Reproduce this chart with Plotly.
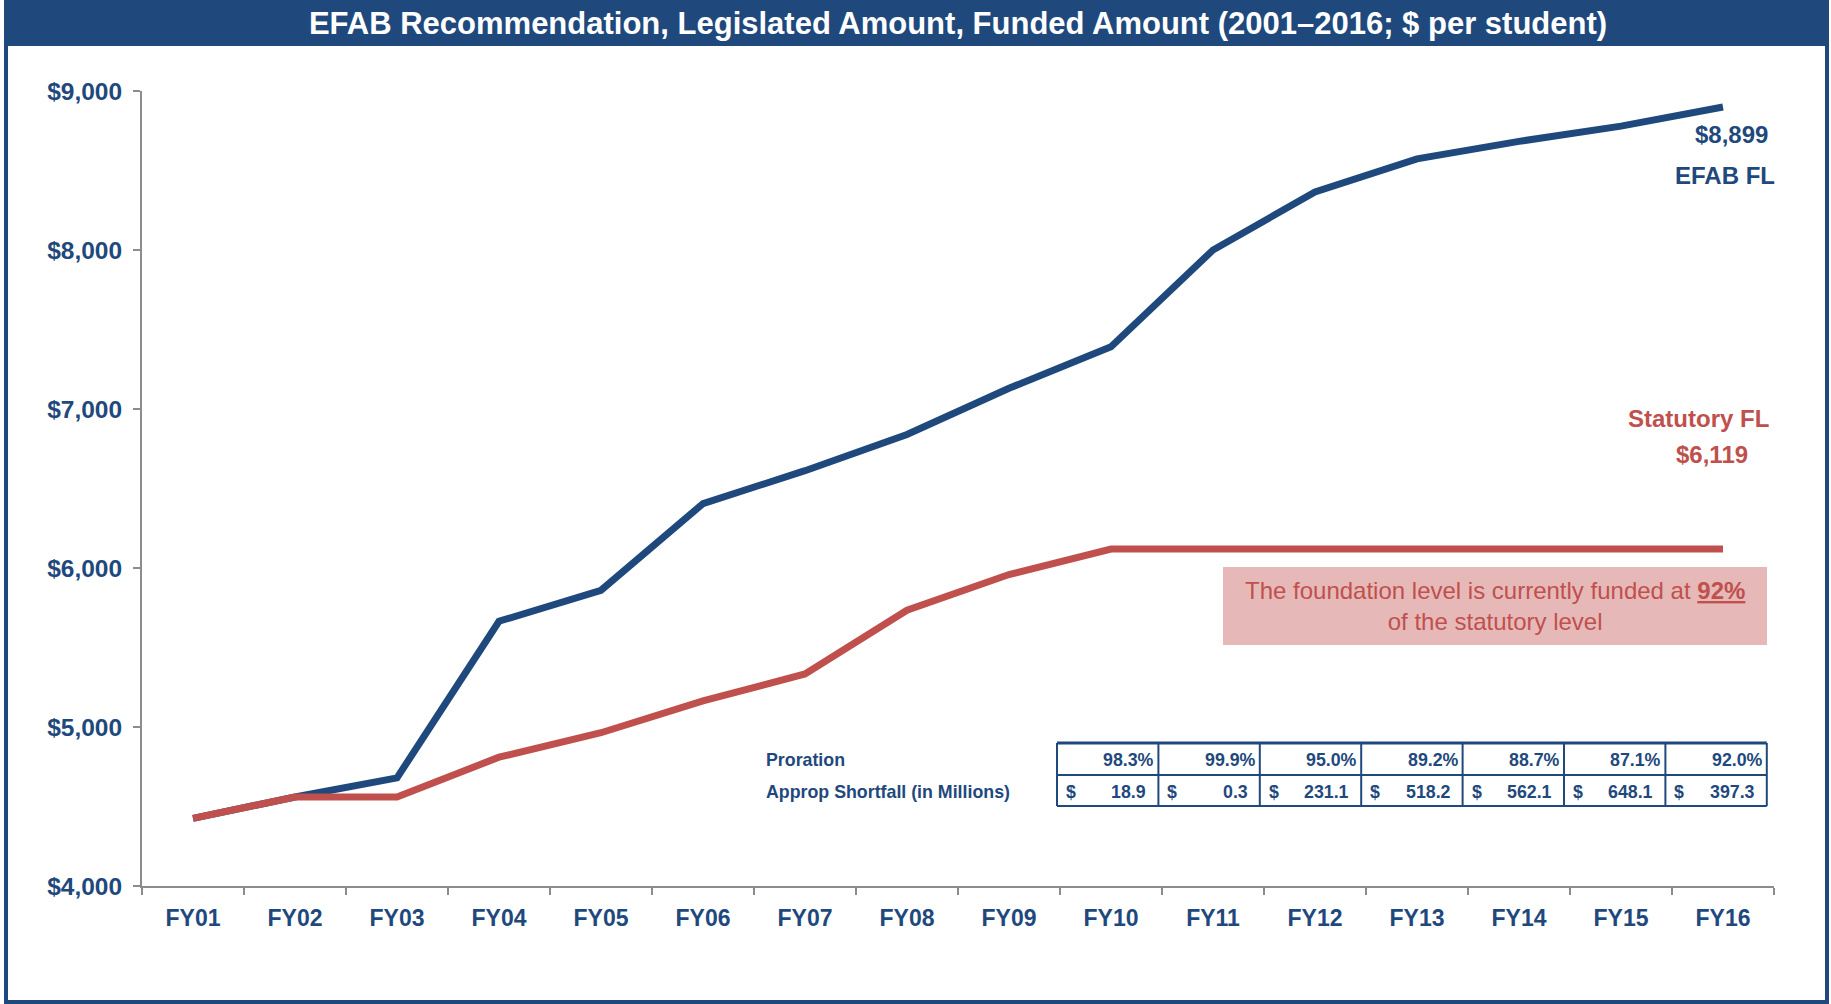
import plotly.graph_objects as go

# chart data
years = ["FY01", "FY02", "FY03", "FY04", "FY05", "FY06", "FY07", "FY08",
         "FY09", "FY10", "FY11", "FY12", "FY13", "FY14", "FY15", "FY16"]
efab = [4425, 4560, 4680, 5665, 5860, 6405, 6612, 6840,
        7130, 7392, 8000, 8365, 8573, 8683, 8779, 8899]
statutory = [4425, 4560, 4560, 4810, 4964, 5164, 5334, 5734,
             5959, 6119, 6119, 6119, 6119, 6119, 6119, 6119]

# table under the lines (FY10 - FY16)
proration = [98.3, 99.9, 95.0, 89.2, 88.7, 87.1, 92.0]
shortfall = [18.9, 0.3, 231.1, 518.2, 562.1, 648.1, 397.3]
funded_pct = 92

BLUE = "#1F497D"
RED = "#C0504D"
PINK = "#E6B9B8"
GREY = "#8C8C8C"
FONT = "Liberation Sans, Arial, sans-serif"

W, H = 1831, 1004
ML, MR, MT, MB = 142, 57, 91, 118
PW, PH = W - ML - MR, H - MT - MB


# pixel -> paper helpers for the decorations
def fx(x):
    return (x - ML) / PW


def fy(y):
    return (H - MB - y) / PH


def label(x, y, text, size, color, anchor="center"):
    return dict(xref="paper", yref="paper", x=fx(x), y=fy(y), xanchor=anchor,
                yanchor="middle", showarrow=False, text=text,
                font=dict(family=FONT, size=size, color=color))


fig = go.Figure()
fig.add_trace(go.Scatter(x=years, y=efab, mode="lines", name="EFAB FL",
                         line=dict(color=BLUE, width=7)))
fig.add_trace(go.Scatter(x=years, y=statutory, mode="lines", name="Statutory FL",
                         line=dict(color=RED, width=7)))

shapes = []
ann = []

# title band + outer frame
shapes.append(dict(type="rect", xref="paper", yref="paper", layer="below",
                   x0=fx(6), x1=fx(1827), y0=fy(46), y1=fy(0),
                   fillcolor=BLUE, line=dict(width=0)))
shapes.append(dict(type="rect", xref="paper", yref="paper", layer="above",
                   x0=fx(6), x1=fx(1827), y0=fy(1002), y1=fy(2),
                   line=dict(color=BLUE, width=4)))

# pink note box
shapes.append(dict(type="rect", xref="paper", yref="paper", layer="below",
                   x0=fx(1223), x1=fx(1767), y0=fy(645), y1=fy(567),
                   fillcolor=PINK, line=dict(width=0)))
ann.append(label(1495, 606,
                 f"The foundation level is currently funded at <b><u>{funded_pct}%</u></b><br>of the statutory level",
                 24, RED))

# end labels
ann.append(label(1731, 134, f"<b>${efab[-1]:,}</b>", 24, BLUE))
ann.append(label(1725, 175, "<b>EFAB FL</b>", 24, BLUE))
ann.append(label(1698, 418, "<b>Statutory FL</b>", 24, RED))
ann.append(label(1712, 454, f"<b>${statutory[-1]:,}</b>", 24, RED))

# table
t_left, col_w = 1057, 101.4
t_top, t_mid, t_bot = 743, 775, 806
row1, row2 = 760, 792
t_right = t_left + col_w * len(proration)
for y, w in [(t_top, 3), (t_mid, 2), (t_bot, 2)]:
    shapes.append(dict(type="line", xref="paper", yref="paper",
                       x0=fx(t_left), x1=fx(t_right), y0=fy(y), y1=fy(y),
                       line=dict(color=BLUE, width=w)))
for i in range(len(proration) + 1):
    xx = t_left + i * col_w
    shapes.append(dict(type="line", xref="paper", yref="paper",
                       x0=fx(xx), x1=fx(xx), y0=fy(t_bot), y1=fy(t_top),
                       line=dict(color=BLUE, width=2)))

ts = 17.8
ann.append(label(764, row1, "<b>Proration</b>", ts, BLUE, "left"))
ann.append(label(764, row2, "<b>Approp Shortfall (in Millions)</b>", ts, BLUE, "left"))
for i, (p, s) in enumerate(zip(proration, shortfall)):
    left = t_left + i * col_w
    right = left + col_w
    ann.append(label(right - 2, row1, f"<b>{p:.1f}%</b>", ts, BLUE, "right"))
    ann.append(label(left + 7, row2, "<b>$</b>", ts, BLUE, "left"))
    ann.append(label(right - 10, row2, f"<b>{s:.1f}</b>", ts, BLUE, "right"))

fig.update_layout(
    width=W, height=H,
    margin=dict(l=ML, r=MR, t=MT, b=MB),
    paper_bgcolor="white", plot_bgcolor="white",
    showlegend=False,
    title=dict(text="<b>EFAB Recommendation, Legislated Amount, Funded Amount (2001\u20132016; $ per student)</b>",
               x=0.5, xref="paper", y=1 - 23 / H, yref="container", yanchor="middle",
               font=dict(family=FONT, size=31, color="white")),
    shapes=shapes, annotations=ann,
)
fig.update_xaxes(type="category", range=[-0.5, 15.5], showgrid=False,
                 showline=True, linecolor=GREY, linewidth=2,
                 ticks="outside", tickson="boundaries", ticklen=7, tickcolor=GREY, tickwidth=2,
                 ticklabelstandoff=10,
                 tickfont=dict(family=FONT, size=23, color=BLUE), tickprefix="<b>", ticksuffix="</b>")
fig.update_yaxes(range=[4000, 9000], dtick=1000, showgrid=False, zeroline=False,
                 showline=True, linecolor=GREY, linewidth=2,
                 ticks="outside", ticklen=7, tickcolor=GREY, tickwidth=2,
                 ticklabelstandoff=6,
                 tickformat=",", tickprefix="<b>$", ticksuffix="</b>",
                 tickfont=dict(family=FONT, size=24.5, color=BLUE))

# drop the page's default body margin so the figure sits at the top-left corner
fig.write_html("out.html", config={"displayModeBar": False},
               post_script="document.body.style.margin='0px';")
